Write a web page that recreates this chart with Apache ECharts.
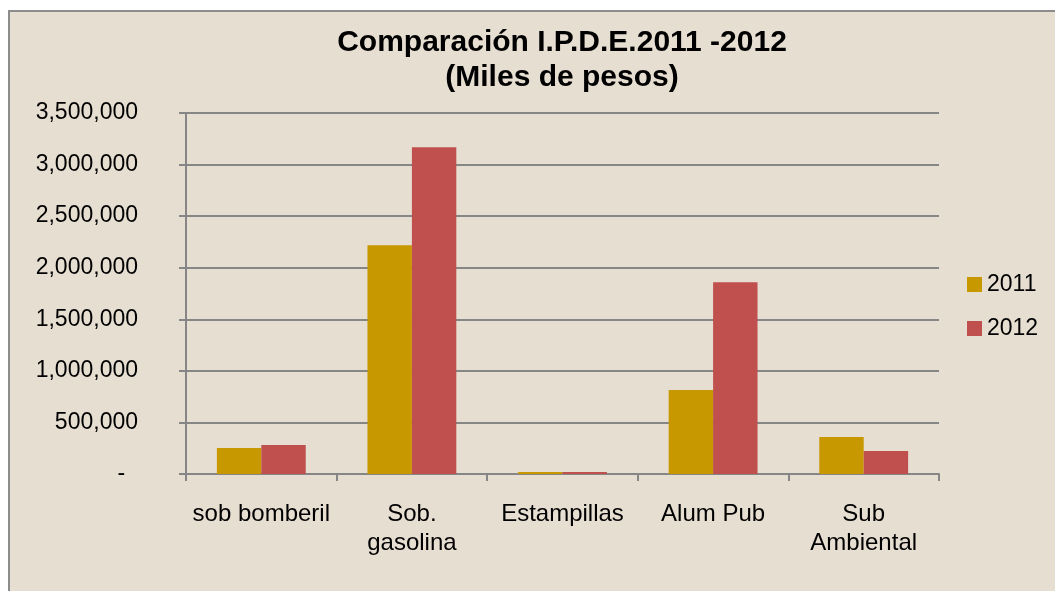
<!DOCTYPE html>
<html>
<head>
<meta charset="utf-8">
<script src="https://cdn.jsdelivr.net/npm/echarts@6/dist/echarts.min.js"></script>
<style>
  html, body { margin: 0; padding: 0; background: #ffffff; }
  #chart {
    position: absolute;
    left: 8px;
    top: 10px;
    width: 1047px;
    height: 581px;
    box-sizing: border-box;
    border-left: 2px solid #8c8c8c;
    border-top: 2px solid #8c8c8c;
    background: #e7ded2;
  }
</style>
</head>
<body>
<div id="chart"></div>
<script>
const categories = ['sob bomberil', 'Sob.\ngasolina', 'Estampillas', 'Alum Pub', 'Sub\nAmbiental']
const values2011 = [252000, 2219000, 20000, 814000, 358000]
const values2012 = [281000, 3169000, 20000, 1860000, 223000]
const yTicks = [0, 500000, 1000000, 1500000, 2000000, 2500000, 3000000, 3500000]

const chart = echarts.init(document.getElementById('chart'))

const fmt = v => v === 0 ? '-  ' : v.toLocaleString('en-US')

chart.setOption({
  backgroundColor: 'transparent',
  animation: false,
  textStyle: { fontFamily: 'Liberation Sans, Arial, sans-serif' },
  title: {
    text: 'Comparación I.P.D.E.2011 -2012\n(Miles de pesos)',
    left: 547,
    top: 8,
    textAlign: 'center',
    textStyle: {
      fontSize: 30,
      fontWeight: 'bold',
      color: '#000',
      lineHeight: 35
    }
  },
  legend: {
    orient: 'vertical',
    left: 952,
    top: 256,
    itemWidth: 15,
    itemHeight: 15,
    itemGap: 21,
    icon: 'rect',
    textStyle: { fontSize: 23, color: '#000' },
    data: ['2011', '2012']
  },
  grid: {
    left: 176,
    right: 116,
    top: 101,
    bottom: 117
  },
  xAxis: {
    type: 'category',
    data: categories,
    axisLine: { lineStyle: { color: '#868686', width: 2 } },
    axisTick: { show: true, length: 7, lineStyle: { color: '#868686', width: 2 } },
    axisLabel: {
      margin: 26,
      fontSize: 24,
      color: '#000',
      lineHeight: 29,
      interval: 0
    }
  },
  yAxis: {
    type: 'value',
    min: yTicks[0],
    max: yTicks[yTicks.length - 1],
    interval: yTicks[1] - yTicks[0],
    axisLine: { show: true, lineStyle: { color: '#868686', width: 2 } },
    axisTick: { show: true, length: 7, lineStyle: { color: '#868686', width: 2 } },
    splitLine: { lineStyle: { color: '#868686', width: 2 } },
    axisLabel: {
      margin: 48,
      fontSize: 23,
      color: '#000',
      formatter: fmt
    }
  },
  series: [
    {
      name: '2011',
      type: 'bar',
      data: values2011,
      barGap: '0%',
      barCategoryGap: '41%',
      itemStyle: { color: '#c89800' }
    },
    {
      name: '2012',
      type: 'bar',
      data: values2012,
      itemStyle: { color: '#c0504d' }
    }
  ]
})
</script>
</body>
</html>
